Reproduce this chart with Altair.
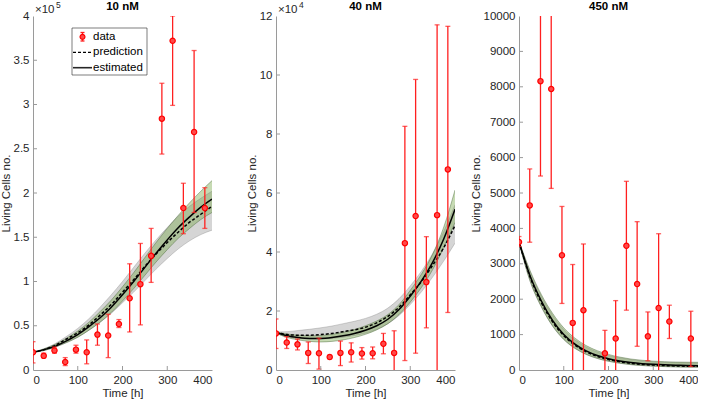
import altair as alt
import pandas as pd

FONT = "Liberation Sans"

# ---------------- data ----------------
T_CURVE = [0, 25, 50, 75, 100, 125, 150, 175, 200, 225, 250, 275, 300, 325, 350, 375, 400]

# Panel 1: 10 nM  (units of 1e5)
P1_T = [0, 24, 48, 72, 96, 120, 144, 168, 192, 216, 240, 264, 288, 312, 336, 360, 384]
P1_Y = [0.20, 0.16, 0.22, 0.09, 0.23, 0.20, 0.40, 0.39, 0.52, 0.81, 0.97, 1.29, 2.84, 3.72, 1.83, 2.69, 1.83]
P1_LO = [0.08, 0.14, 0.19, 0.05, 0.19, 0.07, 0.28, 0.14, 0.48, 0.43, 0.51, 0.99, 2.44, 2.99, 1.54, 1.78, 1.60]
P1_HI = [0.32, 0.19, 0.26, 0.14, 0.28, 0.34, 0.52, 0.63, 0.57, 1.20, 1.43, 1.60, 3.24, 4.00, 2.11, 3.61, 2.06]
P1_EST = [0.20, 0.23, 0.27, 0.33, 0.40, 0.49, 0.59, 0.71, 0.85, 1.00, 1.16, 1.32, 1.47, 1.61, 1.73, 1.84, 1.93]
P1_PRED = [0.20, 0.23, 0.28, 0.35, 0.42, 0.51, 0.62, 0.74, 0.88, 1.02, 1.17, 1.31, 1.44, 1.56, 1.67, 1.76, 1.85]
P1_G_LO = [0.20, 0.22, 0.26, 0.31, 0.37, 0.45, 0.54, 0.65, 0.78, 0.92, 1.07, 1.22, 1.36, 1.49, 1.60, 1.70, 1.78]
P1_G_HI = [0.20, 0.24, 0.29, 0.36, 0.44, 0.54, 0.66, 0.79, 0.94, 1.10, 1.27, 1.44, 1.60, 1.75, 1.89, 2.02, 2.14]
P1_K_LO = [0.20, 0.22, 0.26, 0.31, 0.37, 0.45, 0.54, 0.64, 0.76, 0.88, 1.01, 1.14, 1.26, 1.37, 1.46, 1.53, 1.58]
P1_K_HI = [0.20, 0.24, 0.30, 0.38, 0.47, 0.58, 0.71, 0.85, 1.00, 1.16, 1.32, 1.47, 1.61, 1.74, 1.85, 1.94, 2.02]

# Panel 2: 40 nM  (units of 1e4)
P2_T = [0, 24, 48, 72, 96, 120, 144, 168, 192, 216, 240, 264, 288, 312, 336, 360, 384]
P2_Y = [1.24, 0.93, 0.87, 0.58, 0.57, 0.44, 0.58, 0.60, 0.56, 0.57, 0.89, 0.58, 4.30, 5.22, 2.98, 5.25, 6.80]
P2_LO = [0.73, 0.73, 0.68, 0.22, 0.03, 0.38, 0.15, 0.27, 0.37, 0.38, 0.55, -0.10, 0.32, 0.57, 1.43, -0.50, 1.95]
P2_HI = [1.73, 1.13, 1.05, 0.95, 1.08, 0.50, 0.98, 0.92, 0.76, 0.78, 1.24, 1.33, 8.26, 9.85, 4.52, 11.70, 11.65]
P2_EST = [1.27, 1.16, 1.10, 1.07, 1.07, 1.10, 1.16, 1.24, 1.35, 1.50, 1.72, 2.05, 2.50, 3.02, 3.65, 4.45, 5.45]
P2_PRED = [1.27, 1.20, 1.18, 1.18, 1.20, 1.24, 1.30, 1.36, 1.45, 1.60, 1.82, 2.13, 2.55, 3.00, 3.55, 4.15, 4.90]
P2_G_LO = [1.25, 1.10, 1.02, 0.97, 0.95, 0.97, 1.02, 1.10, 1.21, 1.36, 1.57, 1.88, 2.30, 2.80, 3.40, 4.15, 5.00]
P2_G_HI = [1.29, 1.22, 1.18, 1.16, 1.17, 1.21, 1.28, 1.37, 1.50, 1.66, 1.88, 2.22, 2.70, 3.25, 3.92, 4.85, 6.10]
P2_K_LO = [1.25, 1.12, 1.07, 1.05, 1.05, 1.07, 1.11, 1.17, 1.25, 1.38, 1.57, 1.85, 2.22, 2.65, 3.15, 3.70, 4.30]
P2_K_HI = [1.29, 1.30, 1.34, 1.38, 1.43, 1.49, 1.57, 1.65, 1.75, 1.89, 2.10, 2.42, 2.85, 3.35, 3.95, 4.70, 5.60]

# Panel 3: 450 nM
P3_T = [0, 24, 48, 72, 96, 120, 144, 192, 216, 240, 264, 288, 312, 336, 384]
P3_Y = [3616, 4650, 8160, 7940, 3240, 1330, 1690, 470, 890, 3510, 2430, 950, 1750, 1370, 890]
P3_LO = [3490, 3610, 5480, 5130, 1880, -200, -200, -200, -200, 1690, 670, 260, -200, 890, 100]
P3_HI = [3770, 5680, 10800, 10800, 4620, 2980, 3560, 1120, 1960, 5330, 4190, 1640, 3850, 1830, 1660]
P3_EST = [3620, 2650, 1950, 1400, 1000, 730, 540, 410, 320, 255, 210, 180, 160, 145, 135, 128, 122]
P3_PRED = [3620, 2620, 1900, 1360, 970, 700, 515, 385, 295, 232, 188, 158, 138, 124, 115, 108, 104]
P3_G_LO = [3600, 2500, 1780, 1240, 860, 610, 440, 325, 245, 190, 150, 125, 108, 95, 87, 80, 76]
P3_G_HI = [3640, 2800, 2130, 1600, 1190, 900, 690, 545, 440, 365, 310, 275, 250, 235, 225, 220, 218]
P3_K_LO = [3600, 2510, 1790, 1250, 870, 620, 448, 330, 250, 195, 155, 128, 110, 98, 90, 84, 80]
P3_K_HI = [3640, 2770, 2080, 1550, 1140, 855, 650, 510, 410, 340, 290, 255, 232, 218, 208, 202, 198]

X_TICKS = [0, 100, 200, 300, 400]
Y1_TICKS = [0, 0.5, 1, 1.5, 2, 2.5, 3, 3.5, 4]
Y2_TICKS = [0, 2, 4, 6, 8, 10, 12]
Y3_TICKS = [0, 1000, 2000, 3000, 4000, 5000, 6000, 7000, 8000, 9000, 10000]

W, H = 179, 354
RED = "#ff1f1f"


def panel(title, t, y, lo, hi, est, pred, glo, ghi, klo, khi, ymax, yticks, fmt,
          exp=None, legend=False):
    pts = pd.DataFrame({"t": t, "y": y, "lo": lo, "hi": hi})
    cur = pd.DataFrame({"t": T_CURVE, "est": est, "pred": pred,
                        "glo": glo, "ghi": ghi, "klo": klo, "khi": khi})
    xs = alt.Scale(domain=[0, 400], nice=False, zero=False)
    ys = alt.Scale(domain=[0, ymax], nice=False, zero=False)
    xax = alt.Axis(values=X_TICKS, title="Time [h]", grid=False, ticks=False,
                   labelPadding=4, titlePadding=2, domainColor="#9a9a9a",
                   labelFont=FONT, labelFontSize=11.5, labelColor="#262626",
                   titleFont=FONT, titleFontSize=11.5, titleFontWeight="normal",
                   titleColor="#262626", format="d")
    yax = alt.Axis(values=yticks, title="Living Cells no.", grid=False, ticks=False,
                   labelPadding=4, titlePadding=1.5, domainColor="#9a9a9a",
                   labelFont=FONT, labelFontSize=11.5, labelColor="#262626",
                   titleFont=FONT, titleFontSize=11.5, titleFontWeight="normal",
                   titleColor="#262626", format=fmt)

    def X(f):
        return alt.X(f + ":Q", scale=xs, axis=xax)

    def Y(f):
        return alt.Y(f + ":Q", scale=ys, axis=yax)

    c = alt.Chart(cur)
    grey = c.mark_area(color="#808080", opacity=0.33, clip=True,
                       interpolate="monotone").encode(x=X("t"), y=Y("klo"), y2="khi:Q")
    green = c.mark_area(color="#78a84a", opacity=0.42, clip=True,
                        interpolate="monotone").encode(x=X("t"), y=Y("glo"), y2="ghi:Q")
    edges = []
    for f, col, op in [("klo", "#6e6e6e", 0.5), ("khi", "#6e6e6e", 0.5),
                       ("glo", "#3f5f2f", 0.7), ("ghi", "#3f5f2f", 0.7)]:
        edges.append(c.mark_line(color=col, opacity=op, strokeWidth=0.6,
                                 interpolate="monotone", clip=True).encode(
            x=X("t"), y=Y(f)))
    pred_l = c.mark_line(color="#000000", strokeWidth=1.5, strokeDash=[3, 2],
                         interpolate="monotone", clip=True).encode(x=X("t"), y=Y("pred"))
    est_l = c.mark_line(color="#000000", strokeWidth=1.5,
                        interpolate="monotone", clip=True).encode(x=X("t"), y=Y("est"))

    p = alt.Chart(pts)
    bars = p.mark_rule(color=RED, strokeWidth=1.3, clip=True).encode(
        x=X("t"), y=Y("lo"), y2="hi:Q")
    cap_lo = p.mark_tick(color=RED, size=5, thickness=1.3, orient="horizontal",
                         clip=True).encode(x=X("t"), y=Y("lo"))
    cap_hi = p.mark_tick(color=RED, size=5, thickness=1.3, orient="horizontal",
                         clip=True).encode(x=X("t"), y=Y("hi"))
    dots = p.mark_point(shape="circle", filled=True, fill="#ff4a4a", size=28,
                        opacity=1, stroke="#ff0000", strokeWidth=1.2, clip=True).encode(
        x=X("t"), y=Y("y"))

    # inward ticks
    xt = alt.Chart(pd.DataFrame({"t": X_TICKS[1:-1]})).mark_rule(
        color="#9a9a9a", strokeWidth=1).encode(
        x=X("t"), y=alt.value(H), y2=alt.value(H - 4))
    yt = alt.Chart(pd.DataFrame({"y": yticks[1:-1]})).mark_rule(
        color="#9a9a9a", strokeWidth=1).encode(
        y=Y("y"), x=alt.value(0), x2=alt.value(4))

    layers = [grey, green] + edges + [pred_l, est_l, bars, cap_lo, cap_hi, dots, xt, yt]

    one = pd.DataFrame({"a": [0]})
    # panel title
    layers.append(alt.Chart(one).mark_text(
        text=title, font=FONT, fontSize=11.5, fontWeight="bold", color="#000000",
        align="center", baseline="middle").encode(x=alt.value(W / 2), y=alt.value(-9)))
    if exp is not None:
        layers.append(alt.Chart(one).mark_text(
            text="×10", font=FONT, fontSize=11.5, color="#262626", align="left",
            baseline="alphabetic").encode(x=alt.value(2), y=alt.value(-3)))
        layers.append(alt.Chart(one).mark_text(
            text=exp, font=FONT, fontSize=8.5, color="#262626", align="left",
            baseline="alphabetic").encode(x=alt.value(23), y=alt.value(-8)))

    if legend:
        bx0, bx1, by0, by1 = 39, 114, 12, 59
        layers.append(alt.Chart(one).mark_rect(
            fill="#ffffff", stroke="#262626", strokeWidth=0.6).encode(
            x=alt.value(bx0), x2=alt.value(bx1), y=alt.value(by0), y2=alt.value(by1)))
        layers.append(alt.Chart(one).mark_rule(color=RED, strokeWidth=1.3).encode(
            x=alt.value(49.5), y=alt.value(16.5), y2=alt.value(25)))
        for yy in [16.5, 25]:
            layers.append(alt.Chart(one).mark_rule(color=RED, strokeWidth=1.3).encode(
                x=alt.value(47.5), x2=alt.value(51.5), y=alt.value(yy)))
        layers.append(alt.Chart(one).mark_point(
            shape="circle", filled=True, fill="#ff4a4a", stroke="#ff0000",
            strokeWidth=1.2, size=24, opacity=1).encode(
            x=alt.value(49.5), y=alt.value(20.8)))
        layers.append(alt.Chart(one).mark_rule(
            color="#000000", strokeWidth=1.3, strokeDash=[3, 2]).encode(
            x=alt.value(40), x2=alt.value(59), y=alt.value(36.3)))
        layers.append(alt.Chart(one).mark_rule(
            color="#262626", strokeWidth=1.6).encode(
            x=alt.value(40), x2=alt.value(59), y=alt.value(51.7)))
        for txt, yy in [("data", 21), ("prediction", 36.3), ("estimated", 51.7)]:
            layers.append(alt.Chart(one).mark_text(
                text=txt, font=FONT, fontSize=11.5, color="#000000", align="left",
                baseline="middle").encode(x=alt.value(60), y=alt.value(yy)))

    return alt.layer(*layers).properties(width=W, height=H)


p1 = panel("10 nM", P1_T, P1_Y, P1_LO, P1_HI, P1_EST, P1_PRED, P1_G_LO, P1_G_HI,
           P1_K_LO, P1_K_HI, 4, Y1_TICKS, "~g", exp="5", legend=True)
p2 = panel("40 nM", P2_T, P2_Y, P2_LO, P2_HI, P2_EST, P2_PRED, P2_G_LO, P2_G_HI,
           P2_K_LO, P2_K_HI, 12, Y2_TICKS, "d", exp="4")
p3 = panel("450 nM", P3_T, P3_Y, P3_LO, P3_HI, P3_EST, P3_PRED, P3_G_LO, P3_G_HI,
           P3_K_LO, P3_K_HI, 10000, Y3_TICKS, "d")

chart = alt.hconcat(p1, p2, p3, spacing=64, bounds="flush").properties(
    padding={"left": 0, "top": 1, "right": 0, "bottom": 0}
).configure_view(stroke=None)

chart.save("out.html", embed_options={"renderer": "svg", "actions": False})
